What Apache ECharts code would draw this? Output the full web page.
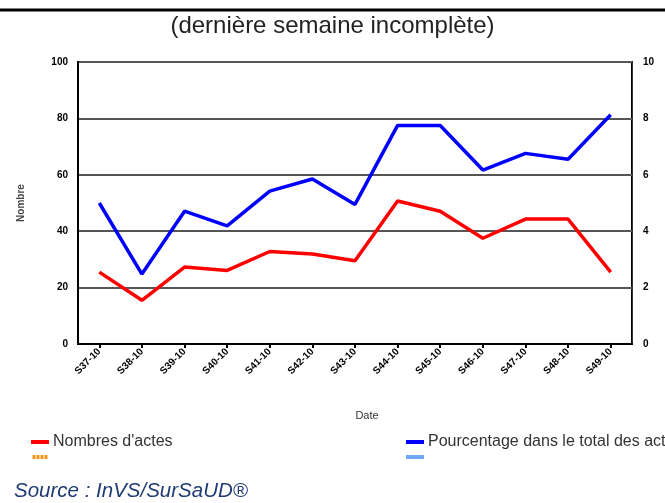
<!DOCTYPE html>
<html>
<head>
<meta charset="utf-8">
<script src="https://cdn.jsdelivr.net/npm/echarts@6/dist/echarts.min.js"></script>
<style>html,body{margin:0;padding:0;background:#fff;}#c{width:665px;height:503px;}</style>
</head>
<body>
<div id="c"></div>
<script>
const categories = ['S37-10','S38-10','S39-10','S40-10','S41-10','S42-10','S43-10','S44-10','S45-10','S46-10','S47-10','S48-10','S49-10'];
const nombresActes = [25.5, 15.5, 27.3, 26.1, 32.8, 31.9, 29.5, 50.7, 47.1, 37.5, 44.3, 44.3, 25.5];
const pourcentage = [5.0, 2.48, 4.71, 4.19, 5.42, 5.85, 4.95, 7.75, 7.75, 6.17, 6.76, 6.55, 8.13];
const leftTicks = [0, 100, 20];
const rightTicks = [0, 10, 2];
const subtitle = '(dernière semaine incomplète)';
const source = 'Source : InVS/SurSaUD®';

const FONT = 'Arial, "Liberation Sans", sans-serif';
const chart = echarts.init(document.getElementById('c'), null, {renderer: 'canvas'});
const dashIcon = 'path://M0,0h3v4h-3z M4,0h3v4h-3z M8,0h3v4h-3z M12,0h3v4h-3z';
function leg(name, left, top, icon, color) {
  return {
    data: [{name: name, icon: icon, itemStyle: {color: color}}],
    left: left, top: top, orient: 'horizontal',
    itemWidth: 18, itemHeight: 4, itemGap: 0,
    textStyle: {fontFamily: FONT, fontSize: 16, color: '#333', padding: [0, 0, 0, -1]},
    selectedMode: false,
    formatter: function (n) { return n.trim() === '' ? '' : n; }
  };
}
chart.setOption({
  animation: false,
  backgroundColor: '#fff',
  title: [{
    text: subtitle, left: 'center', top: 9,
    textStyle: {fontFamily: FONT, fontSize: 24, fontWeight: 'normal', color: '#222'}
  }, {
    text: source, left: 9, top: 476,
    textStyle: {fontFamily: FONT, fontSize: 20.5, fontStyle: 'italic', fontWeight: 'normal', color: '#1f3b73'}
  }],
  graphic: [{
    type: 'line', shape: {x1: 0, y1: 10, x2: 665, y2: 10},
    style: {stroke: '#000', lineWidth: 3}
  }],
  legend: [
    leg("Nombres d'actes", 26, 429, 'rect', '#ff0000'),
    leg('Pourcentage dans le total des actes', 401, 429, 'rect', '#0000ff'),
    leg(' ', 26, 450, dashIcon, '#f7941d'),
    leg('  ', 401, 450, 'rect', '#6ea8f7')
  ],
  grid: {left: 78, right: 33, top: 62, bottom: 159, show: true, borderColor: '#000', borderWidth: 2, containLabel: false},
  xAxis: {
    type: 'category', data: categories, boundaryGap: true,
    name: 'Date', nameLocation: 'middle', nameGap: 66,
    nameTextStyle: {fontFamily: FONT, fontSize: 11, color: '#333', padding: [0, 0, 0, 24]},
    axisLine: {show: true, lineStyle: {color: '#000', width: 2}},
    axisTick: {show: true, alignWithLabel: true, length: 4, lineStyle: {color: '#000', width: 2}},
    axisLabel: {rotate: 45, fontFamily: FONT, fontSize: 10, fontWeight: 'bold', color: '#000', margin: 6, interval: 0},
    splitLine: {show: false}
  },
  yAxis: [{
    type: 'value', min: leftTicks[0], max: leftTicks[1], interval: leftTicks[2],
    name: 'Nombre', nameLocation: 'middle', nameGap: 52, nameRotate: 90,
    nameTextStyle: {fontFamily: FONT, fontSize: 10, fontWeight: 'bold', color: '#444'},
    axisLine: {show: true, lineStyle: {color: '#000', width: 2}},
    axisTick: {show: false},
    axisLabel: {fontFamily: FONT, fontSize: 10, fontWeight: 'bold', color: '#000', margin: 10},
    splitLine: {show: true, lineStyle: {color: '#555', width: 2}}
  }, {
    type: 'value', min: rightTicks[0], max: rightTicks[1], interval: rightTicks[2], position: 'right',
    axisLine: {show: true, lineStyle: {color: '#333', width: 1}},
    axisTick: {show: false},
    axisLabel: {fontFamily: FONT, fontSize: 10, fontWeight: 'bold', color: '#000', margin: 11},
    splitLine: {show: false}
  }],
  series: [{
    name: "Nombres d'actes", type: 'line', data: nombresActes, yAxisIndex: 0,
    symbol: 'none', lineStyle: {color: '#ff0000', width: 3.5}, itemStyle: {color: '#ff0000'}, z: 3
  }, {
    name: 'Pourcentage dans le total des actes', type: 'line', data: pourcentage, yAxisIndex: 1,
    symbol: 'none', lineStyle: {color: '#0000ff', width: 3.5}, itemStyle: {color: '#0000ff'}, z: 3
  }, {
    name: ' ', type: 'line', data: [], yAxisIndex: 0, symbol: 'none',
    lineStyle: {color: '#f7941d', type: 'dashed', width: 3}, itemStyle: {color: '#f7941d'}
  }, {
    name: '  ', type: 'line', data: [], yAxisIndex: 1, symbol: 'none',
    lineStyle: {color: '#6ea8f7', width: 3}, itemStyle: {color: '#6ea8f7'}
  }]
});
</script>
</body>
</html>
